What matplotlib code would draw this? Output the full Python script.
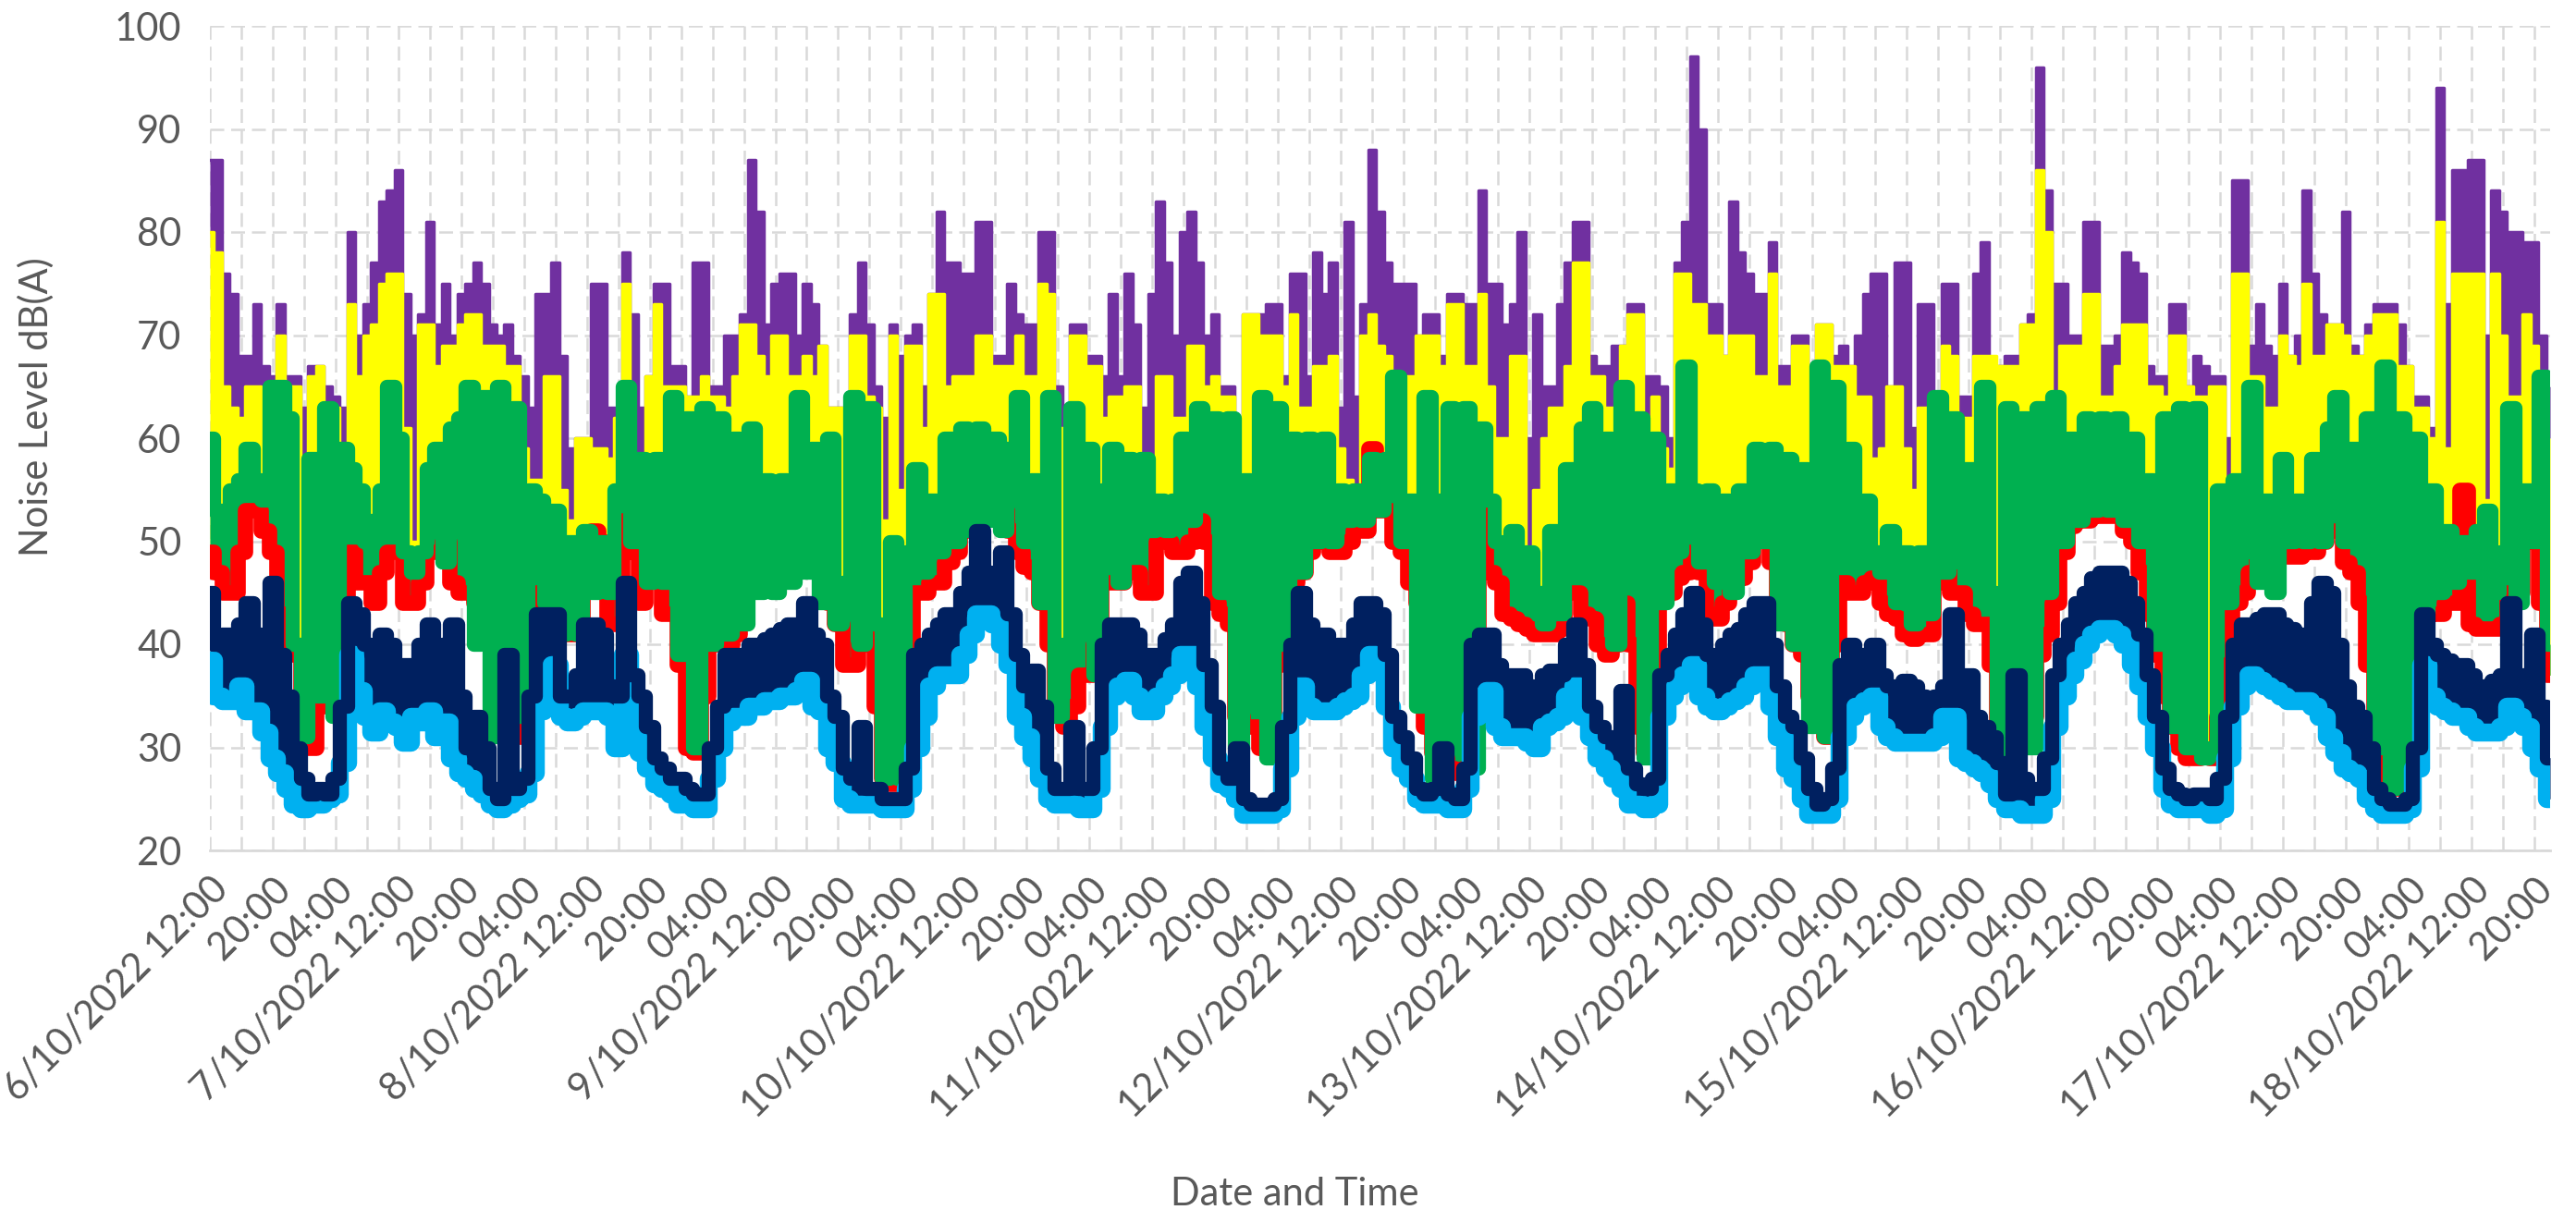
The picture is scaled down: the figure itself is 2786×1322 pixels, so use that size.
import matplotlib
matplotlib.use('Agg')
import matplotlib.pyplot as plt
import matplotlib.dates as mdates
import matplotlib.ticker as mticker
import pandas as pd

plt.rcParams['font.family'] = ['Lato', 'DejaVu Sans']

# hourly readings starting 6/10/2022 12:00
start = '2022-10-06 12:00'

# purple - highest level
lmax = [87, 87, 76, 74, 68, 68, 73, 67, 66, 73, 66, 66, 63, 67, 67, 65, 64, 63, 80, 70, 73, 77, 83, 84, 86, 74, 70, 72, 81, 71, 75, 70, 74, 75, 77, 75, 71, 70, 71, 68, 66, 63, 74,
        74, 77, 68, 59, 60, 60, 75, 75, 63, 63, 78, 72, 63, 66, 75, 75, 67, 67, 64, 77, 77, 65, 65, 70, 70, 72, 87, 82, 71, 75, 76, 76, 70, 75, 73, 69, 63, 63, 57, 72, 77, 71,
        65, 62, 71, 68, 70, 71, 65, 74, 82, 77, 77, 76, 76, 81, 81, 68, 68, 75, 72, 71, 71, 80, 80, 65, 62, 71, 71, 68, 68, 66, 74, 66, 76, 71, 63, 74, 83, 77, 70, 80, 82, 77, 70,
        72, 65, 65, 59, 72, 72, 72, 73, 73, 66, 76, 76, 66, 78, 74, 77, 63, 81, 64, 73, 88, 82, 77, 75, 75, 75, 70, 72, 72, 68, 74, 74, 73, 73, 84, 75, 75, 71, 73, 80, 60, 72,
        65, 65, 73, 77, 81, 81, 68, 67, 67, 69, 69, 73, 73, 66, 66, 65, 60, 77, 81, 97, 90, 73, 73, 68, 83, 78, 76, 74, 74, 79, 67, 67, 70, 70, 66, 71, 71, 68, 69, 67, 70, 74, 76,
        76, 65, 77, 77, 61, 73, 73, 62, 75, 75, 64, 64, 76, 79, 67, 67, 68, 68, 71, 72, 96, 84, 75, 75, 70, 70, 81, 81, 69, 69, 70, 78, 77, 76, 67, 66, 66, 73, 73, 65, 68, 67,
        66, 66, 60, 85, 85, 69, 73, 69, 68, 75, 68, 70, 84, 76, 72, 71, 71, 82, 69, 68, 71, 73, 73, 73, 71, 67, 64, 64, 61, 94, 73, 86, 86, 87, 87, 70, 84, 82, 80, 80, 79, 79, 70, 65]

# yellow
l1 = [80, 78, 65, 63, 62, 65, 65, 60, 62, 70, 65, 65, 55, 66, 67, 63, 63, 55, 73, 66, 70, 71, 75, 76, 76, 61, 50, 71, 71, 67, 69, 69, 71, 72, 72, 69, 69, 69, 67, 67, 59, 56, 56,
      66, 66, 55, 52, 60, 60, 59, 59, 58, 62, 75, 57, 57, 66, 73, 65, 65, 65, 64, 64, 66, 64, 64, 63, 66, 71, 71, 68, 66, 70, 70, 66, 66, 68, 66, 69, 63, 63, 57, 70, 70, 64,
      63, 52, 70, 55, 69, 69, 61, 74, 74, 65, 66, 66, 66, 70, 70, 67, 67, 67, 70, 66, 66, 75, 74, 61, 55, 70, 70, 67, 67, 62, 64, 64, 65, 65, 58, 58, 66, 66, 62, 62, 69, 69, 65,
      66, 64, 64, 54, 72, 72, 70, 70, 70, 65, 72, 63, 63, 67, 67, 68, 59, 56, 55, 70, 72, 69, 68, 65, 65, 66, 70, 70, 70, 67, 73, 73, 67, 67, 74, 65, 60, 60, 68, 68, 49, 55,
      60, 63, 63, 67, 77, 77, 66, 66, 63, 63, 69, 72, 72, 61, 64, 59, 57, 76, 76, 73, 73, 70, 70, 68, 70, 70, 70, 66, 66, 76, 65, 65, 69, 69, 64, 71, 71, 67, 67, 67, 64, 64, 58,
      59, 65, 65, 59, 55, 63, 63, 58, 69, 68, 62, 62, 68, 68, 68, 67, 67, 67, 71, 71, 86, 80, 60, 69, 69, 69, 74, 74, 64, 64, 67, 71, 71, 71, 65, 65, 64, 70, 70, 65, 64, 64,
      65, 65, 55, 76, 76, 66, 66, 63, 63, 70, 68, 67, 75, 68, 68, 71, 71, 70, 68, 68, 70, 72, 72, 72, 67, 67, 63, 63, 60, 81, 59, 76, 76, 76, 76, 54, 76, 70, 64, 64, 72, 69, 65, 60]

# green - swings a lot within each hour
leq = [60, 53, 52, 55, 56, 59, 56, 54, 65, 65, 62, 40, 31, 58, 35, 63, 33, 59, 57, 55, 50, 52, 55, 65, 60, 49, 47, 49, 57, 59, 48, 61, 62, 65, 40, 64, 31, 65, 35, 63, 33, 55, 54,
       44, 53, 41, 50, 41, 51, 45, 50, 45, 55, 65, 50, 58, 46, 58, 46, 64, 39, 62, 30, 63, 40, 62, 41, 60, 42, 61, 45, 56, 45, 56, 46, 64, 47, 59, 44, 60, 42, 46, 64, 40, 63,
       42, 27, 50, 27, 49, 57, 47, 54, 49, 60, 50, 61, 51, 61, 52, 60, 51, 59, 64, 50, 56, 44, 64, 33, 40, 63, 45, 59, 37, 55, 59, 46, 58, 50, 58, 51, 54, 51, 54, 60, 52, 63, 59,
       62, 45, 62, 30, 56, 45, 64, 29, 63, 40, 60, 47, 60, 50, 60, 50, 55, 52, 55, 52, 58, 53, 58, 66, 50, 54, 34, 64, 27, 54, 63, 30, 63, 28, 61, 54, 50, 49, 51, 47, 49, 45,
       42, 51, 43, 57, 48, 61, 63, 45, 60, 40, 65, 50, 62, 29, 60, 44, 55, 49, 67, 55, 48, 55, 46, 54, 45, 55, 49, 59, 50, 59, 42, 58, 40, 57, 32, 67, 31, 65, 49, 59, 48, 54, 49,
       47, 51, 44, 49, 42, 49, 43, 64, 47, 62, 48, 57, 49, 65, 45, 28, 63, 45, 62, 30, 63, 45, 64, 50, 60, 52, 62, 53, 62, 53, 62, 52, 60, 50, 56, 40, 62, 32, 63, 30, 63, 29,
       30, 55, 44, 56, 49, 65, 46, 54, 45, 58, 50, 54, 50, 58, 50, 61, 64, 50, 59, 51, 62, 30, 67, 26, 62, 27, 60, 43, 55, 45, 51, 46, 50, 47, 51, 53, 45, 49, 63, 44, 55, 50, 66, 40]

# red
l10 = [49, 47, 45, 45, 49, 53, 53, 51, 49, 43, 39, 39, 30, 30, 34, 34, 38, 42, 49, 46, 46, 44, 47, 49, 49, 44, 44, 46, 49, 49, 50, 46, 45, 45, 44, 41, 40, 44, 44, 37, 31, 39, 45,
       45, 45, 44, 41, 41, 48, 51, 50, 42, 42, 52, 49, 44, 47, 48, 43, 43, 38, 30, 29.5, 35, 40, 40, 40, 41, 45, 46, 47, 47, 47, 48, 49, 50, 53, 50, 48, 44, 42, 38, 38, 40, 41,
       34, 27, 26.5, 27, 40, 45, 45, 46, 46, 48, 49, 51, 52, 54.5, 54.5, 53, 53, 51, 49, 47.5, 47, 44, 40, 34, 32, 34, 37, 37, 40, 46, 46, 46, 47, 47, 45, 45, 50, 50, 49, 49, 50, 52, 50,
       44, 43, 42, 33, 32, 32, 30, 29.5, 38, 44, 46, 47, 49, 50, 52, 49, 49, 50, 51, 51, 59, 53, 53, 50, 49, 46, 44, 32, 29.5, 29, 28, 27.5, 28, 39, 54, 47, 46, 43, 42.5, 42, 41.5, 41,
       41, 41, 41.5, 45, 45, 43, 42.5, 40, 39, 40, 44, 40, 32, 29.5, 38, 44.5, 45, 46.5, 47, 49, 47, 43, 42.5, 44, 46, 46.5, 48, 51, 51, 48, 43, 42, 40, 39, 35, 33, 31, 40, 46, 45, 45, 46, 46.5,
       44, 43, 42.5, 41, 40.5, 41, 41, 46, 49, 45, 45, 43, 42, 42, 38, 29, 31, 30, 31, 33, 39, 41, 44, 49, 51.5, 52, 52, 52.5, 52.5, 52.5, 52.5, 51, 50, 47, 43, 39, 35, 32, 30, 29, 29, 29.5,
       29, 33, 38, 44, 45, 47, 49, 52, 52, 50, 48.5, 48.5, 49, 49, 50, 51, 51, 48, 47, 44, 38, 30, 26.5, 26, 26, 26.5, 36, 42.5, 43, 43, 44, 44, 55, 42, 41.5, 41.5, 41.5, 42, 45, 45, 50, 50.5, 44, 37]

# dark navy
l90 = [45, 40, 41, 41, 42, 44, 41, 39, 46, 39, 35, 30, 27, 25.5, 26, 25.5, 27, 34, 44, 43, 40, 39, 41, 40, 37, 38, 38, 40, 42, 37, 40, 42, 35, 30, 33, 30, 26, 25, 39, 26, 27, 35, 43,
       43, 43, 35, 35, 37, 42, 42, 41, 36, 35, 46, 37, 35, 32, 29, 28, 27, 27, 26, 25.5, 25.5, 30, 34, 39, 39, 39, 40, 40, 40.5, 41, 41.5, 42, 42, 44, 41, 40, 35, 33, 28, 27, 32, 26,
       26, 25, 25, 25, 28, 39, 40, 41, 42, 43, 43, 45, 47, 51, 47, 46, 49, 43, 39, 36, 37.5, 34, 28, 26, 26, 32, 26, 26, 30, 40, 42, 42, 42, 41, 39, 39, 39, 40.5, 42, 46, 47, 44, 38,
       34, 28, 27, 30, 25, 24.5, 24.5, 24.5, 25, 32, 40, 45, 42, 41, 41, 39, 40, 40, 42, 44, 44, 43, 39, 33, 31, 29, 26, 25.5, 26, 30, 25.5, 25, 28, 40, 41, 41, 38, 37, 37, 37, 36, 35,
       37, 37.5, 37, 40, 42, 38, 34, 32, 31, 31, 35.5, 28, 26.5, 26, 27, 37, 39, 41, 43, 45, 42, 39, 38.5, 40, 41, 41.5, 43, 44, 44, 40, 36, 33, 32, 29, 26, 24.5, 25, 28, 38, 40, 39, 39, 40,
       37, 36, 35.5, 36.5, 36, 35, 34.5, 35, 36, 43, 37, 37, 33, 32, 31, 28.5, 25.5, 37, 27, 26, 26, 29, 37, 40, 42, 44, 45, 46.5, 47, 47, 47, 46, 44, 41, 37, 33, 28, 26, 25.5, 25, 25.5, 25.5,
       25, 27, 33, 40, 42, 42, 42.5, 43, 43, 42, 41.5, 41, 41, 44, 46, 45, 40, 36, 34, 33, 30, 26, 25, 24.5, 24.5, 25, 30, 43, 40, 39, 38.5, 38, 38, 37, 36, 36, 36.5, 37, 44, 36, 37, 41, 34, 29]

# light blue - lowest level
lmin = [38.5, 35, 34.5, 34.5, 36, 33.5, 33.5, 31.5, 29, 27.5, 26, 24.5, 24, 24.5, 24.5, 25, 25.5, 28.5, 39, 35.5, 33, 31.5, 33.5, 32.5, 32, 30.5, 33, 32.5, 33.5, 31, 32.5, 29, 27.5, 27, 26, 25.5, 24.5, 24, 24.5, 25, 25.5, 27.5, 33.5,
        37, 38, 33, 32.5, 33, 33.5, 33.5, 33.5, 33, 30, 39, 31, 29.5, 28, 26.5, 26, 25.5, 24.5, 24.5, 24, 24, 27, 30, 32.5, 33, 33, 34, 34, 34.5, 34.5, 35, 35, 35.5, 36.5, 34, 33.5, 30, 28.5, 25, 24.5, 24.5, 24.5,
        24.5, 24, 24, 24, 26, 30, 33, 36, 37, 37, 37, 39, 41, 43, 43, 42, 40, 38, 33, 31, 29, 27, 25, 24.5, 24.5, 24.5, 24, 24, 26, 32, 35, 36, 36.5, 35, 33.5, 33.5, 35, 36, 37, 39, 39, 36, 32,
        29, 26.5, 26, 25, 23.5, 23.5, 23.5, 23.5, 24, 28, 33, 36, 34, 33.5, 33.5, 33.5, 34, 34.5, 35, 37, 39, 38, 34, 30, 28, 27, 25, 24.5, 24.5, 24.5, 24, 24, 26, 33, 35, 35.5, 32, 31, 31, 31, 30.5, 30,
        32, 32.5, 33, 35, 36, 33, 31, 29, 28, 27, 26, 24.5, 24.5, 24, 24.5, 33, 35, 36, 37, 38, 35, 34, 33.5, 34, 34.5, 35, 36, 37, 37, 34, 31, 28, 27, 25, 23.5, 23.5, 23.5, 25, 31, 33, 34, 34.5, 35,
        32, 31, 30.5, 30.5, 30.5, 30.5, 30.5, 31, 33, 33, 29, 28.5, 28, 27.5, 26.5, 25, 24, 24, 23.5, 23.5, 23.5, 25, 32, 35, 37, 38.5, 40, 41, 41.5, 41.5, 41, 40, 38, 36, 33, 30, 26, 24.5, 24, 24, 24, 24,
        23.5, 24, 29, 34, 36, 37, 36.5, 36, 35.5, 35, 34.5, 34.5, 34.5, 34, 33, 31, 29.5, 28, 27.5, 27, 25, 24, 23.5, 23.5, 23.5, 24, 28, 38, 35, 34, 33.5, 33, 33, 32, 31.5, 31.5, 31.5, 32, 34, 33, 32, 30, 28, 25]

purple, yellow, green, red, navy, sky = '#7030A0', '#FFFF00', '#00B050', '#FF0000', '#002060', '#00B0F0'
grey = '#595959'

fig = plt.figure(figsize=(27.86, 13.22), dpi=100)
ax = fig.add_axes([227 / 2786, 1 - 920 / 1322, (2758 - 227) / 2786, (920 - 28) / 1322])

t = pd.date_range(start, periods=len(lmax), freq='h').values
line = dict(drawstyle='steps-mid', solid_joinstyle='round', solid_capstyle='round')

# the original samples are much denser than hourly, so each level shows up
# as a solid band sitting on the one below it
ax.fill_between(t, l1, lmax, step='mid', color=purple, lw=0, zorder=2.0)
ax.plot(t, lmax, color=purple, lw=2.5, zorder=2.1, **line)
ax.fill_between(t, l10, l1, step='mid', color=yellow, lw=0, zorder=2.2)
ax.plot(t, l1, color=yellow, lw=2.5, zorder=2.3, **line)
ax.fill_between(t, l10, leq, step='mid', color=green, lw=0, zorder=2.4)
ax.plot(t, l10, color=red, lw=12, zorder=2.5, **line)
ax.plot(t, leq, color=green, lw=11, zorder=2.6, **line)
ax.fill_between(t, lmin, l90, step='mid', color=navy, lw=0, zorder=2.7)
ax.plot(t, lmin, color=sky, lw=14, zorder=2.8, **line)
ax.plot(t, l90, color=navy, lw=11, zorder=2.9, **line)

t0 = pd.Timestamp(start)
ax.set_xlim(t0, t0 + pd.Timedelta(hours=298))
ax.set_ylim(20, 100)

ax.yaxis.set_major_locator(mticker.MultipleLocator(10))
ax.xaxis.set_major_locator(mdates.HourLocator(byhour=[4, 12, 20]))
ax.xaxis.set_minor_locator(mdates.HourLocator(byhour=[0, 8, 16]))


def hour_label(v, pos):
    d = pd.Timestamp(mdates.num2date(v)).round('h')
    if d.hour == 12:
        return f'{d.day}/{d.month}/{d.year} 12:00'
    return d.strftime('%H:%M')


ax.xaxis.set_major_formatter(mticker.FuncFormatter(hour_label))

ax.set_axisbelow(True)
ax.grid(True, which='both', axis='both', color='#D9D9D9', lw=1.8, ls=(0, (6, 3)))

for s in ['top', 'right', 'left']:
    ax.spines[s].set_visible(False)
ax.spines['bottom'].set_color('#D9D9D9')
ax.spines['bottom'].set_linewidth(2)

ax.tick_params(axis='both', which='both', length=0, colors=grey)
ax.tick_params(axis='y', labelsize=30, pad=22)
ax.tick_params(axis='x', labelsize=30, pad=16)

fig.canvas.draw()
for lbl in ax.get_xticklabels():
    lbl.set_rotation(45)
    lbl.set_ha('right')
    lbl.set_va('top')
    lbl.set_rotation_mode('anchor')

fig.text(39 / 2786, 1 - 440 / 1322, 'Noise Level dB(A)', rotation=90,
         ha='center', va='center', fontsize=30, color=grey)
fig.text(1400 / 2786, 1 - 1292 / 1322, 'Date and Time',
         ha='center', va='center', fontsize=30, color=grey)

fig.savefig('out.png', dpi=100)
